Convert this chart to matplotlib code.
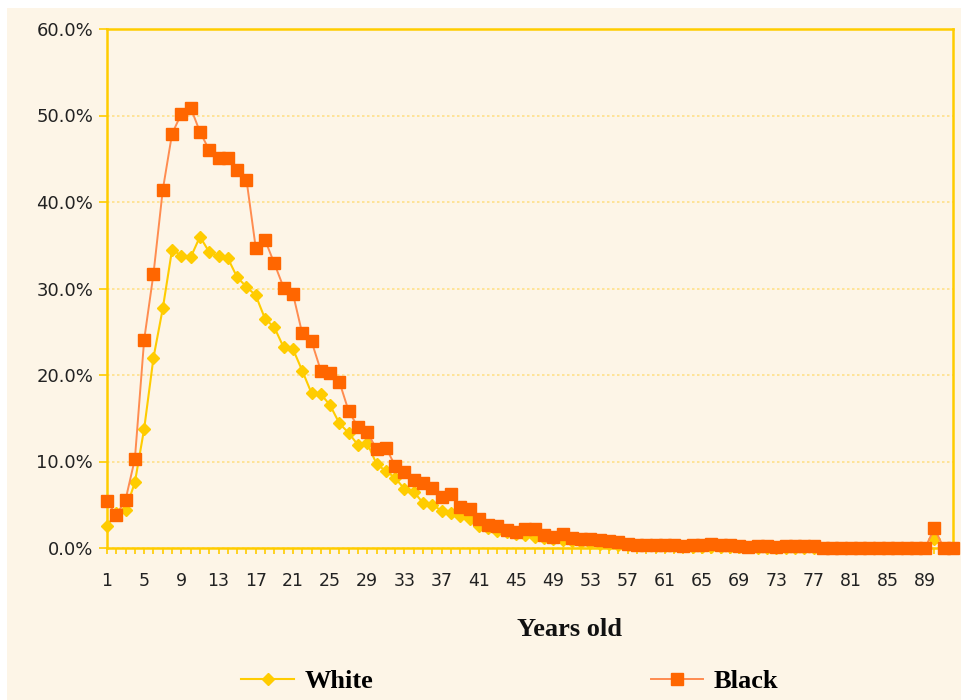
import matplotlib
matplotlib.use("Agg")
import matplotlib.pyplot as plt
from matplotlib.patches import Rectangle
from matplotlib.ticker import FuncFormatter, MultipleLocator

# age categories 1..92
ages = list(range(1, 93))

# share (%) by age, white
white = [
    2.6, 4.0, 4.4, 7.6, 13.8, 22.0, 27.7, 34.5, 33.8, 33.6,
    36.0, 34.2, 33.7, 33.5, 31.3, 30.2, 29.2, 26.5, 25.5, 23.2,
    23.0, 20.5, 17.9, 17.8, 16.5, 14.4, 13.3, 11.9, 12.1, 9.7,
    8.9, 8.1, 6.8, 6.5, 5.2, 5.0, 4.3, 4.1, 3.7, 3.4,
    2.6, 2.3, 2.0, 1.8, 1.6, 1.5, 1.3, 1.1, 1.0, 0.9,
    0.8, 0.7, 0.6, 0.5, 0.5, 0.4, 0.4, 0.3, 0.3, 0.2,
    0.2, 0.2, 0.2, 0.1, 0.1, 0.1, 0.1, 0.1, 0.1, 0.1,
    0.0, 0.0, 0.0, 0.0, 0.0, 0.0, 0.0, 0.0, 0.0, 0.0,
    0.0, 0.0, 0.0, 0.0, 0.0, 0.0, 0.0, 0.0, 0.0, 1.0,
    0.0, 0.0,
]

# share (%) by age, black
black = [
    5.4, 3.8, 5.6, 10.3, 24.1, 31.7, 41.4, 47.9, 50.2, 50.9,
    48.1, 46.0, 45.1, 45.1, 43.7, 42.6, 34.7, 35.6, 32.9, 30.1,
    29.4, 24.8, 23.9, 20.5, 20.2, 19.2, 15.8, 14.0, 13.4, 11.4,
    11.6, 9.5, 8.8, 7.9, 7.5, 6.9, 5.9, 6.3, 4.7, 4.5,
    3.3, 2.7, 2.5, 2.1, 1.9, 2.2, 2.2, 1.5, 1.3, 1.6,
    1.1, 1.0, 1.0, 0.9, 0.8, 0.7, 0.5, 0.4, 0.4, 0.4,
    0.3, 0.3, 0.2, 0.3, 0.3, 0.5, 0.3, 0.3, 0.2, 0.1,
    0.2, 0.2, 0.1, 0.2, 0.2, 0.2, 0.2, 0.0, 0.0, 0.0,
    0.0, 0.0, 0.0, 0.0, 0.0, 0.0, 0.0, 0.0, 0.0, 2.3,
    0.0, 0.0,
]

BG = "#FDF5E7"
GOLD = "#FFCC00"
ORANGE = "#FF6600"

fig = plt.figure(figsize=(9.62, 7.0), dpi=100)
fig.patch.set_facecolor("white")
fig.patches.append(Rectangle((7 / 962, 0), 1, 1 - 8 / 700, transform=fig.transFigure,
                             facecolor=BG, edgecolor="none", zorder=-10))

ax = fig.add_axes([107 / 962, 1 - 548 / 700, (953 - 107) / 962, (548 - 29) / 700])
ax.set_facecolor(BG)

ax.plot(ages, white, color=GOLD, lw=1.5, marker="D", markersize=6.5,
        markerfacecolor=GOLD, markeredgecolor=GOLD, label="White", zorder=3, clip_on=False)
ax.plot(ages, black, color="#FF8C50", lw=1.4, marker="s", markersize=9,
        markerfacecolor=ORANGE, markeredgecolor=ORANGE, label="Black", zorder=4, clip_on=False)

ax.set_xlim(1, 92)
ax.set_ylim(0, 60)
ax.yaxis.set_major_locator(MultipleLocator(10))
ax.yaxis.set_major_formatter(FuncFormatter(lambda v, p: f"{v:.1f}%"))
ax.set_xticks(ages[::4])
ax.set_xticks(ages, minor=True)

for s in ax.spines.values():
    s.set_color(GOLD)
    s.set_linewidth(1.8)

ax.grid(axis="y", color="#FFE08A", linestyle=(0, (1.5, 1.5)), linewidth=1.2)
ax.set_axisbelow(True)

ax.tick_params(axis="y", which="major", length=6, width=1.2, color=GOLD,
               labelsize=13, labelcolor="#222222", pad=4)
ax.tick_params(axis="x", which="both", length=4, width=1.2, color=GOLD,
               labelsize=12.5, labelcolor="#222222", pad=13)
for lbl in ax.get_xticklabels() + ax.get_yticklabels():
    lbl.set_family("DejaVu Sans")

fig.text(570 / 962, 1 - 630 / 700, "Years old", ha="center", va="center",
         family="Liberation Serif", weight="bold", fontsize=19, color="#111111")

leg = fig.legend(loc="center", bbox_to_anchor=(510 / 962, 1 - 681 / 700), ncol=2,
                 frameon=False, prop={"family": "Liberation Serif", "weight": "bold", "size": 19},
                 handlelength=2.0, columnspacing=10.5, handletextpad=0.4)

fig.savefig("out.png", dpi=100, facecolor=fig.get_facecolor())
